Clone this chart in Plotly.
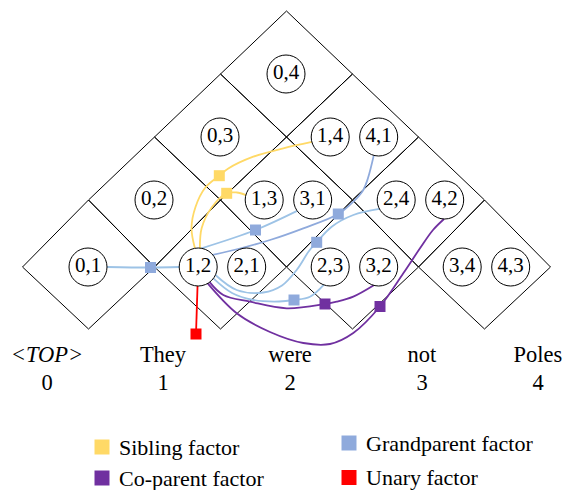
import math
import plotly.graph_objects as go

# ---------------- data ----------------
WORDS = ["<i>&lt;TOP&gt;</i>", "They", "were", "not", "Poles"]
WORD_IDS = ["0", "1", "2", "3", "4"]
N_LAST = 4  # index of last word

FACTOR_NAMES = ["Sibling factor", "Grandparent factor", "Co-parent factor", "Unary factor"]
SIBLING = [("1,2", "1,4"), ("1,2", "1,3")]
GRANDPARENT = [("0,1", "1,2"), ("1,2", "3,1"), ("1,2", "4,1"), ("1,2", "2,4"), ("1,2", "2,3")]
COPARENT = [("1,2", "3,2"), ("1,2", "4,2")]
UNARY = [("1,2",)]

# ---------------- layout / style ----------------
FONT = "Liberation Serif, Times New Roman, serif"
W, H = 564, 490
X0, A = 286.5, 66.0                      # apex x, half-width of a diamond
LEVEL_Y = [11, 74, 137, 200, 267, 329]   # y of lattice vertex rows
R = 19                                   # node circle radius
PAIR_DX = (-22.3, 26.2)
SINGLE_DX = -0.5
WORD_X = [47, 163, 290, 422, 538]
WORD_Y, IDX_Y = 356, 384

FILL = {"Sibling factor": "#FFD966", "Grandparent factor": "#8FAADC",
        "Co-parent factor": "#7030A0", "Unary factor": "#FF0000"}
LIGHT_BLUE = "#9DC3E6"

# routing of each factor (angles in degrees, y up; points in canvas px)
ROUTES = {
    "Sibling factor": [
        dict(a=100, pre=[(191.5, 228), (195.5, 207), (205, 188)], sq=(219.3, 175.7),
             post=[(228.3, 168.5), (253.3, 156.7), (283.3, 148.3)], b=195),
        dict(a=85, pre=[(201.7, 228), (211.7, 207.5)], sq=(226.7, 193.3),
             post=[(236.7, 192.5)], b=165),
    ],
    "Grandparent factor": [
        dict(a=0, pre=[], sq=(150.5, 267.5), post=[], b=180, color=LIGHT_BLUE),
        dict(a=80, pre=[], sq=(255.5, 230), post=[], b=215, color=LIGHT_BLUE),
        dict(a=40, pre=[(240, 248.5), (270, 240), (303.3, 228.3)], sq=(338.3, 214),
             post=[(353.3, 201.7), (363.3, 190), (368, 178)], b=255, color="#8FAADC"),
        dict(a=-25, pre=[(236.7, 290), (263.3, 292.5), (282, 285.5), (297, 269.5), (309, 251)],
             sq=(316.7, 242.3), post=[(331.7, 226.7), (353.3, 215)], b=208, color=LIGHT_BLUE),
        dict(a=-37, pre=[(232, 293), (253.3, 300), (279, 301.5)], sq=(294, 300),
             post=[(310, 296.7)], b=250, color=LIGHT_BLUE),
    ],
    "Co-parent factor": [
        dict(a=-53, pre=[(223.3, 295), (250, 301.7), (286.7, 308.3)], sq=(325, 304),
             post=[(336.7, 301.7), (353.3, 296.7)], b=255),
        dict(a=-60, pre=[(236.7, 313.3), (270, 332), (303.3, 343), (330, 344), (353.3, 333)],
             sq=(380, 306.5), post=[(403.3, 273.3), (420, 248.3), (433, 230)], b=268),
    ],
    "Unary factor": [dict(a=268, pre=[], sq=(196, 334), post=[])],
}
LEGEND_POS = {"Sibling factor": (102, 447), "Grandparent factor": (349, 443),
              "Co-parent factor": (102, 478), "Unary factor": (349, 477.5)}


def cell_center_x(i, j):
    return X0 + A * (i + j - N_LAST)


def node_pos(label):
    h, d = (int(s) for s in label.split(","))
    i, j = min(h, d), max(h, d)
    cx = cell_center_x(i, j)
    y = LEVEL_Y[5 - (j - i)]
    if i == 0:
        return cx + SINGLE_DX, y
    return cx + (PAIR_DX[0] if h < d else PAIR_DX[1]), y


def boundary(label, ang):
    x, y = node_pos(label)
    t = math.radians(ang)
    return x + R * math.cos(t), y - R * math.sin(t)


fig = go.Figure()

# ---- chart diamonds ----
dx, dy = [], []
for i in range(N_LAST):
    for j in range(i + 1, N_LAST + 1):
        k = j - i
        cx = cell_center_x(i, j)
        pts = [(cx, LEVEL_Y[4 - k]), (cx + A, LEVEL_Y[5 - k]), (cx, LEVEL_Y[6 - k]),
               (cx - A, LEVEL_Y[5 - k]), (cx, LEVEL_Y[4 - k])]
        dx += [p[0] for p in pts] + [None]
        dy += [p[1] for p in pts] + [None]
fig.add_trace(go.Scatter(x=dx, y=dy, mode="lines", line=dict(color="black", width=1),
                         hoverinfo="skip"))

# ---- factor connectors ----
FACTORS = {"Sibling factor": SIBLING, "Grandparent factor": GRANDPARENT,
           "Co-parent factor": COPARENT, "Unary factor": UNARY}
squares = {n: ([], []) for n in FACTOR_NAMES}
for name in FACTOR_NAMES:
    for edge, rt in zip(FACTORS[name], ROUTES[name]):
        pts = [boundary(edge[0], rt["a"])] + rt["pre"] + [rt["sq"]] + rt["post"]
        if len(edge) > 1:
            pts.append(boundary(edge[1], rt["b"]))
        col = rt.get("color", FILL[name])
        fig.add_trace(go.Scatter(x=[p[0] for p in pts], y=[p[1] for p in pts], mode="lines",
                                 line=dict(color=col, width=1.8, shape="spline", smoothing=1),
                                 hoverinfo="skip"))
        squares[name][0].append(rt["sq"][0])
        squares[name][1].append(rt["sq"][1])

# ---- nodes ----
labels = []
for i in range(N_LAST):
    for j in range(i + 1, N_LAST + 1):
        labels.append(f"{i},{j}")
        if i > 0:
            labels.append(f"{j},{i}")
nx = [node_pos(l)[0] for l in labels]
ny = [node_pos(l)[1] for l in labels]
fig.add_trace(go.Scatter(x=nx, y=ny, mode="markers+text", text=labels,
                         textposition="middle center",
                         textfont=dict(family=FONT, size=21, color="black"),
                         marker=dict(size=2 * R, color="white", line=dict(color="black", width=1)),
                         hoverinfo="skip"))

# ---- factor squares ----
for name in FACTOR_NAMES:
    fig.add_trace(go.Scatter(x=squares[name][0], y=squares[name][1], mode="markers",
                             marker=dict(symbol="square", size=11, color=FILL[name]),
                             hoverinfo="skip"))

# ---- words ----
fig.add_trace(go.Scatter(x=WORD_X, y=[WORD_Y] * len(WORDS), mode="text", text=WORDS,
                         textposition="middle center",
                         textfont=dict(family=FONT, size=22.5, color="black"), hoverinfo="skip"))
fig.add_trace(go.Scatter(x=WORD_X, y=[IDX_Y] * len(WORD_IDS), mode="text", text=WORD_IDS,
                         textposition="middle center",
                         textfont=dict(family=FONT, size=22.5, color="black"), hoverinfo="skip"))

# ---- legend ----
for name in FACTOR_NAMES:
    lx, ly = LEGEND_POS[name]
    fig.add_trace(go.Scatter(x=[lx], y=[ly], mode="markers",
                             marker=dict(symbol="square", size=15, color=FILL[name]),
                             hoverinfo="skip"))
    fig.add_annotation(x=lx + 15, y=ly, text=name, showarrow=False, xanchor="left",
                       yanchor="middle", font=dict(family=FONT, size=22, color="black"))

fig.update_layout(width=W, height=H, margin=dict(l=0, r=0, t=0, b=0),
                  paper_bgcolor="white", plot_bgcolor="white", showlegend=False,
                  xaxis=dict(range=[0, W], visible=False, fixedrange=True),
                  yaxis=dict(range=[H, 0], visible=False, fixedrange=True))

fig.write_html("out.html", config={"displayModeBar": False},
               post_script="document.body.style.margin='0';")
